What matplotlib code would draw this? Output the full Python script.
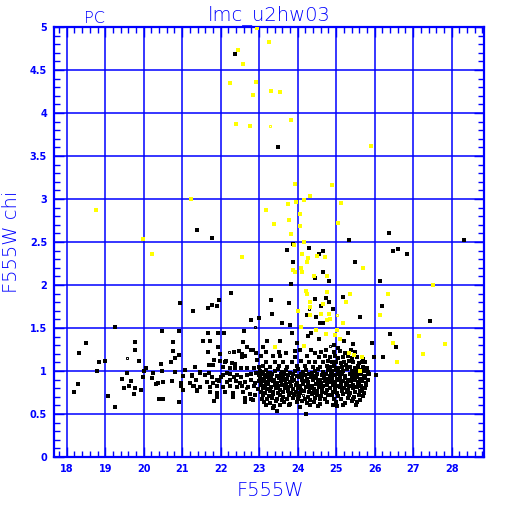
import numpy as np
import matplotlib
matplotlib.use("Agg")
import matplotlib.pyplot as plt
from matplotlib.ticker import MultipleLocator

# F555W magnitude / chi pairs
yellow_pts = [
    (22.94, 4.99), (23.25, 4.82), (22.45, 4.73), (22.57, 4.57), (22.24, 4.35), (22.92, 4.36),
    (22.83, 4.21), (23.30, 4.26), (23.54, 4.24), (23.82, 3.92), (22.40, 3.87), (22.76, 3.85),
    (25.90, 3.62), (21.22, 3.00), (18.76, 2.87), (19.97, 2.54), (20.22, 2.36),
    (23.93, 3.17), (24.89, 3.16), (24.32, 3.04), (24.16, 2.99), (23.75, 2.94), (23.95, 2.96),
    (25.12, 2.95), (23.19, 2.87), (24.06, 2.83), (23.77, 2.76), (23.38, 2.71), (24.06, 2.69),
    (25.05, 2.72), (23.82, 2.59), (24.16, 2.50), (23.90, 2.46), (22.56, 2.33), (24.11, 2.36),
    (24.49, 2.34), (24.70, 2.33), (24.27, 2.31), (24.23, 2.27), (24.08, 2.20), (25.69, 2.20),
    (23.87, 2.17), (23.94, 2.15), (24.11, 2.15), (24.42, 2.10), (24.75, 2.10), (24.22, 1.93),
    (24.23, 1.89), (24.77, 1.92), (24.32, 1.80), (24.65, 1.78), (25.36, 1.89), (25.26, 1.80),
    (26.35, 1.90), (27.51, 2.00), (24.33, 1.75), (24.01, 1.70), (24.32, 1.65), (24.60, 1.66),
    (24.81, 1.66), (24.84, 1.61), (24.75, 1.59), (25.17, 1.56), (24.08, 1.51), (24.48, 1.48),
    (25.03, 1.48), (24.74, 1.43), (23.40, 1.28), (24.16, 1.29), (25.10, 1.37), (25.34, 1.21),
    (25.46, 1.19), (24.98, 1.42), (26.15, 1.65), (27.14, 1.41), (26.47, 1.33), (27.82, 1.31),
    (27.25, 1.20), (26.57, 1.11), (25.67, 1.16), (25.63, 1.00),
]
yellow_open = [(23.29, 3.85), (25.01, 1.65)]

black_sparse = [
    (22.36, 4.69), (23.48, 3.60), (21.38, 2.64), (21.77, 2.55), (23.87, 2.48), (23.73, 2.41),
    (24.29, 2.43), (24.66, 2.40), (24.56, 2.36), (25.33, 2.52), (26.37, 2.61), (26.47, 2.39),
    (26.61, 2.42), (26.83, 2.36), (28.33, 2.52), (25.48, 2.27), (23.87, 2.27), (24.67, 2.15),
    (24.82, 2.05), (24.44, 2.08), (23.82, 2.01), (26.15, 2.05),
    (22.26, 1.91), (21.96, 1.83), (21.77, 1.77), (21.90, 1.76), (21.67, 1.73), (20.94, 1.79),
    (21.27, 1.70), (23.30, 1.83), (23.77, 1.79), (24.44, 1.84), (24.74, 1.85), (24.81, 1.80),
    (25.17, 1.86), (24.60, 1.76), (24.91, 1.72), (26.19, 1.76),
    (22.80, 1.59), (22.99, 1.62), (19.25, 1.51), (18.50, 1.32), (18.33, 1.21), (20.47, 1.46),
    (20.92, 1.46), (19.77, 1.34), (19.77, 1.25), (18.99, 1.12), (18.84, 1.11), (19.88, 1.12),
    (18.79, 1.00), (18.29, 0.85), (18.18, 0.76), (19.07, 0.71), (19.25, 0.58), (19.56, 0.98),
    (19.44, 0.91), (19.66, 0.88), (19.61, 0.83), (19.48, 0.80), (19.74, 0.73), (19.78, 0.80),
    (19.92, 0.78), (19.99, 0.93), (20.06, 1.03), (20.01, 1.00), (20.23, 0.98), (20.22, 0.92),
    (20.36, 0.86), (20.31, 0.85), (20.50, 0.87), (20.39, 0.67), (20.50, 0.68), (20.44, 1.08),
    (20.48, 1.00), (20.72, 1.10), (20.73, 0.88), (20.76, 1.34), (20.76, 1.23), (20.81, 1.15),
    (20.91, 1.19), (20.81, 0.99), (20.96, 0.86), (20.98, 0.83), (21.01, 0.78), (20.91, 0.64),
    (21.06, 1.01), (21.26, 0.94), (21.31, 0.83), (21.38, 0.78), (21.34, 1.05), (21.47, 0.99),
    (21.53, 1.35), (21.67, 1.22), (21.72, 1.35), (21.67, 1.44), (21.93, 1.44), (22.09, 1.44),
    (22.61, 1.47), (22.59, 1.34), (21.93, 1.28), (22.35, 1.22), (21.83, 1.13),
    (21.98, 1.12), (22.14, 1.12), (21.81, 1.07),
    (23.33, 1.66), (24.23, 1.65), (24.48, 1.63), (24.58, 1.56), (24.67, 1.56), (23.59, 1.56),
    (23.80, 1.54), (23.85, 1.44), (24.34, 1.44), (24.27, 1.41), (24.55, 1.37), (23.54, 1.35),
    (23.21, 1.35), (23.97, 1.32), (23.09, 1.28),
    (27.45, 1.58), (26.40, 1.43), (26.55, 1.28), (25.98, 1.16), (26.22, 1.16), (26.03, 0.95),
    (25.93, 1.33), (25.61, 1.63), (25.32, 1.44), (25.45, 1.31), (25.20, 1.35), (24.95, 1.30),
    (25.05, 1.27), (24.21, 0.50), (23.47, 0.53), (23.35, 0.57), (25.03, 0.59), (25.51, 0.61),
]
black_open = [(22.90, 1.51), (19.57, 1.15), (22.22, 1.22), (22.67, 0.80), (24.30, 1.72),
              (24.84, 1.29), (23.16, 0.80), (23.94, 0.72), (24.13, 0.72)]

cloud_left = [
    (22.47, 1.23), (22.68, 1.28), (22.78, 1.25), (22.85, 1.24), (22.55, 1.20), (22.64, 1.18),
    (22.55, 1.16), (22.92, 1.21), (22.95, 1.13), (21.98, 1.20), (22.10, 1.11), (22.29, 1.09),
    (22.38, 1.08), (21.69, 1.07), (22.07, 1.05), (22.24, 1.03), (22.38, 1.03), (22.53, 1.04),
    (22.68, 1.04), (22.87, 1.04), (22.99, 1.05), (21.01, 0.94), (21.25, 0.95), (21.46, 0.98),
    (21.60, 0.95), (21.70, 0.98), (21.77, 0.93), (21.90, 0.90), (22.00, 0.93), (22.07, 0.95),
    (22.17, 0.98), (22.24, 0.97), (22.35, 0.93), (22.43, 0.95), (22.53, 0.93), (22.68, 0.95),
    (22.80, 0.97), (22.92, 0.98), (23.00, 0.95), (21.20, 0.86), (21.36, 0.89), (21.64, 0.87),
    (21.81, 0.86), (21.96, 0.88), (22.16, 0.87), (22.24, 0.90), (22.40, 0.88), (22.50, 0.86),
    (22.64, 0.87), (22.78, 0.89), (22.88, 0.86), (22.99, 0.88), (21.27, 0.83), (21.46, 0.81),
    (21.72, 0.81), (21.90, 0.82), (22.07, 0.81), (22.24, 0.83), (22.42, 0.81), (22.55, 0.83),
    (22.71, 0.81), (22.87, 0.83), (22.97, 0.79), (21.39, 0.77), (21.72, 0.76), (21.91, 0.74),
    (22.10, 0.76), (22.31, 0.75), (22.59, 0.76), (22.76, 0.73), (22.90, 0.72), (21.90, 0.70),
    (22.33, 0.70), (22.64, 0.69), (22.80, 0.68), (21.83, 0.65), (22.62, 0.64), (22.83, 0.66),
]

cloud_mid = [
    (23.05, 1.17), (23.37, 1.17), (23.54, 1.18), (23.92, 1.16), (24.23, 1.18), (24.55, 1.16),
    (24.72, 1.17), (23.18, 1.22), (23.51, 1.22), (23.70, 1.21), (23.92, 1.23), (24.06, 1.25),
    (24.34, 1.25), (24.46, 1.21), (24.61, 1.22), (24.74, 1.25),
    (23.18, 1.11), (23.40, 1.11), (23.63, 1.11), (23.85, 1.11), (24.09, 1.12), (24.30, 1.10),
    (24.44, 1.11), (24.67, 1.10), (24.79, 1.12), (23.11, 1.06), (23.28, 1.05), (23.51, 1.06),
    (23.71, 1.05), (23.97, 1.06), (24.18, 1.06), (24.41, 1.05), (24.58, 1.05), (24.75, 1.06),
    (23.03, 1.00), (23.10, 0.99), (23.19, 1.01), (23.27, 0.98), (23.41, 1.00), (23.48, 1.02),
    (23.60, 0.99), (23.70, 1.01), (23.81, 0.98), (23.93, 1.00), (24.02, 1.02), (24.15, 0.99),
    (24.22, 1.01), (24.36, 0.98), (24.45, 1.00), (24.54, 1.02), (24.66, 0.99), (24.78, 1.01),
    (23.06, 0.96), (23.15, 0.95), (23.23, 0.97), (23.33, 0.96), (23.45, 0.94), (23.56, 0.96),
    (23.64, 0.97), (23.76, 0.95), (23.88, 0.96), (23.97, 0.94), (24.08, 0.97), (24.19, 0.95),
    (24.30, 0.96), (24.41, 0.94), (24.50, 0.97), (24.62, 0.95), (24.74, 0.96), (24.83, 0.94),
    (23.02, 0.92), (23.12, 0.91), (23.22, 0.93), (23.30, 0.92), (23.38, 0.90), (23.52, 0.92),
    (23.61, 0.93), (23.72, 0.91), (23.84, 0.92), (23.91, 0.90), (24.04, 0.93), (24.12, 0.92),
    (24.25, 0.91), (24.34, 0.93), (24.47, 0.92), (24.58, 0.90), (24.69, 0.92), (24.80, 0.91),
    (23.08, 0.88), (23.17, 0.87), (23.26, 0.89), (23.35, 0.88), (23.47, 0.86), (23.57, 0.88),
    (23.67, 0.89), (23.79, 0.87), (23.86, 0.88), (23.99, 0.86), (24.10, 0.89), (24.17, 0.88),
    (24.28, 0.87), (24.39, 0.89), (24.52, 0.88), (24.60, 0.86), (24.72, 0.88), (24.82, 0.87),
    (23.04, 0.84), (23.14, 0.83), (23.24, 0.85), (23.40, 0.84), (23.50, 0.82), (23.59, 0.84),
    (23.69, 0.85), (23.82, 0.83), (23.95, 0.84), (24.06, 0.82), (24.14, 0.85), (24.26, 0.84),
    (24.37, 0.83), (24.48, 0.85), (24.56, 0.84), (24.67, 0.82), (24.77, 0.84),
    (23.09, 0.80), (23.20, 0.79), (23.31, 0.81), (23.43, 0.80), (23.54, 0.78), (23.66, 0.80),
    (23.74, 0.81), (23.87, 0.79), (24.00, 0.80), (24.09, 0.78), (24.21, 0.81), (24.32, 0.80),
    (24.43, 0.79), (24.55, 0.81), (24.64, 0.80), (24.76, 0.78),
    (23.05, 0.76), (23.16, 0.75), (23.28, 0.77), (23.37, 0.76), (23.49, 0.74), (23.62, 0.76),
    (23.75, 0.77), (23.83, 0.75), (23.96, 0.76), (24.05, 0.74), (24.16, 0.77), (24.29, 0.76),
    (24.40, 0.75), (24.51, 0.77), (24.63, 0.76), (24.73, 0.74),
    (23.11, 0.72), (23.25, 0.71), (23.36, 0.73), (23.53, 0.72), (23.63, 0.70), (23.78, 0.72),
    (23.90, 0.73), (24.03, 0.71), (24.27, 0.70), (24.38, 0.73), (24.49, 0.72), (24.61, 0.71),
    (24.79, 0.72), (23.07, 0.68), (23.21, 0.67), (23.34, 0.69), (23.46, 0.68), (23.58, 0.66),
    (23.73, 0.68), (23.89, 0.69), (24.01, 0.67), (24.18, 0.68), (24.31, 0.66), (24.44, 0.69),
    (24.59, 0.68), (24.71, 0.67), (23.13, 0.64), (23.29, 0.63), (23.44, 0.65), (23.65, 0.64),
    (23.80, 0.62), (23.98, 0.64), (24.11, 0.65), (24.24, 0.63), (24.42, 0.64), (24.57, 0.62),
    (24.75, 0.64), (23.18, 0.60), (23.39, 0.59), (23.55, 0.61), (23.77, 0.60), (24.07, 0.58),
    (24.33, 0.60), (24.53, 0.59),
]

cloud_right = [
    (24.95, 1.22), (25.10, 1.23), (25.22, 1.21), (25.38, 1.24), (25.50, 1.22),
    (24.85, 1.16), (24.98, 1.17), (25.06, 1.15), (25.18, 1.16), (25.30, 1.18), (25.42, 1.15),
    (25.55, 1.16), (25.70, 1.14), (24.88, 1.10), (25.00, 1.11), (25.12, 1.09), (25.20, 1.10),
    (25.33, 1.12), (25.45, 1.10), (25.58, 1.09), (25.66, 1.11), (25.76, 1.10),
    (24.84, 1.05), (24.94, 1.06), (25.04, 1.04), (25.15, 1.05), (25.26, 1.07), (25.36, 1.05),
    (25.48, 1.04), (25.57, 1.06), (25.69, 1.05), (25.80, 1.04),
    (24.90, 1.00), (24.99, 1.01), (25.08, 0.99), (25.19, 1.00), (25.28, 1.02), (25.40, 1.00),
    (25.51, 0.99), (25.60, 1.01), (25.72, 1.00), (25.83, 0.99),
    (24.86, 0.96), (24.96, 0.95), (25.05, 0.97), (25.14, 0.96), (25.24, 0.94), (25.35, 0.96),
    (25.46, 0.97), (25.55, 0.95), (25.64, 0.96), (25.75, 0.94), (25.86, 0.96),
    (24.89, 0.92), (25.01, 0.91), (25.11, 0.93), (25.22, 0.92), (25.31, 0.90), (25.41, 0.92),
    (25.52, 0.93), (25.62, 0.91), (25.73, 0.92), (25.82, 0.90),
    (24.87, 0.88), (24.97, 0.87), (25.07, 0.89), (25.17, 0.88), (25.29, 0.86), (25.39, 0.88),
    (25.49, 0.89), (25.59, 0.87), (25.68, 0.88), (25.78, 0.86),
    (24.93, 0.84), (25.03, 0.83), (25.13, 0.85), (25.25, 0.84), (25.34, 0.82), (25.44, 0.84),
    (25.56, 0.85), (25.65, 0.83), (25.77, 0.84),
    (24.85, 0.80), (24.98, 0.79), (25.09, 0.81), (25.21, 0.80), (25.32, 0.78), (25.43, 0.80),
    (25.54, 0.81), (25.67, 0.79), (25.74, 0.80),
    (24.91, 0.76), (25.02, 0.75), (25.16, 0.77), (25.27, 0.76), (25.37, 0.74), (25.50, 0.76),
    (25.61, 0.77), (25.71, 0.75), (24.88, 0.72), (25.06, 0.71), (25.19, 0.73), (25.33, 0.72),
    (25.47, 0.70), (25.58, 0.72), (25.69, 0.71), (24.95, 0.68), (25.12, 0.67), (25.30, 0.69),
    (25.45, 0.68), (25.63, 0.66), (25.00, 0.64), (25.23, 0.63), (25.40, 0.65), (25.55, 0.64),
    (24.92, 0.60), (25.18, 0.61),
]

xticks = list(range(18, 29))
yticks = [0, 0.5, 1, 1.5, 2, 2.5, 3, 3.5, 4, 4.5, 5]
ytick_labels = ["0", "0.5", "1", "1.5", "2", "2.5", "3", "3.5", "4", "4.5", "5"]

blue = "#0000ff"

fig = plt.figure(figsize=(5.12, 5.12), dpi=100)
ax = fig.add_axes([54 / 512, 55 / 512, 430 / 512, 430 / 512])

black = np.array(black_sparse + cloud_left + cloud_mid + cloud_right)
ax.plot(black[:, 0], black[:, 1], "s", color="black", ms=2.2, mew=0,
        antialiased=False, zorder=3)
bo = np.array(black_open)
ax.plot(bo[:, 0], bo[:, 1], "s", mfc="none", mec="black", ms=2.0, mew=0.7,
        antialiased=False, zorder=3)
yl = np.array(yellow_pts)
ax.plot(yl[:, 0], yl[:, 1], "s", color="#ffff00", ms=2.2, mew=0,
        antialiased=False, zorder=4)
yo = np.array(yellow_open)
ax.plot(yo[:, 0], yo[:, 1], "s", mfc="none", mec="#ffff00", ms=2.0, mew=0.7,
        antialiased=False, zorder=4)

ax.set_xlim(17.67, 28.84)
ax.set_ylim(0, 5)
ax.set_xticks(xticks)
ax.set_yticks(yticks)
ax.set_yticklabels(ytick_labels)
ax.xaxis.set_minor_locator(MultipleLocator(0.2))
ax.yaxis.set_minor_locator(MultipleLocator(0.1))
ax.grid(True, which="major", color=blue, lw=1.1, zorder=1)
ax.set_axisbelow(True)
ax.tick_params(which="both", direction="in", colors=blue, top=True, right=True,
               labelsize=7, width=1)
ax.tick_params(which="major", length=7, pad=5)
ax.tick_params(which="minor", length=4)
for lab in ax.get_xticklabels() + ax.get_yticklabels():
    lab.set_fontweight("bold")
for sp in ax.spines.values():
    sp.set_color(blue)
    sp.set_linewidth(1.6)

fig.text(269 / 512, 1 - 20 / 512, "lmc_u2hw03", color=blue, fontsize=14,
         fontweight="light", ha="center", va="baseline")
fig.text(95 / 512, 1 - 23 / 512, "PC", color=blue, fontsize=11.5,
         fontweight="light", ha="center", va="baseline")
fig.text(270 / 512, 1 - 490 / 512, "F555W", color=blue, fontsize=14,
         fontweight="light", ha="center", va="center")
fig.text(12 / 512, 1 - 242 / 512, "F555W chi", color=blue, fontsize=14,
         fontweight="light", ha="center", va="center", rotation=90)

fig.savefig("out.png", dpi=100)
